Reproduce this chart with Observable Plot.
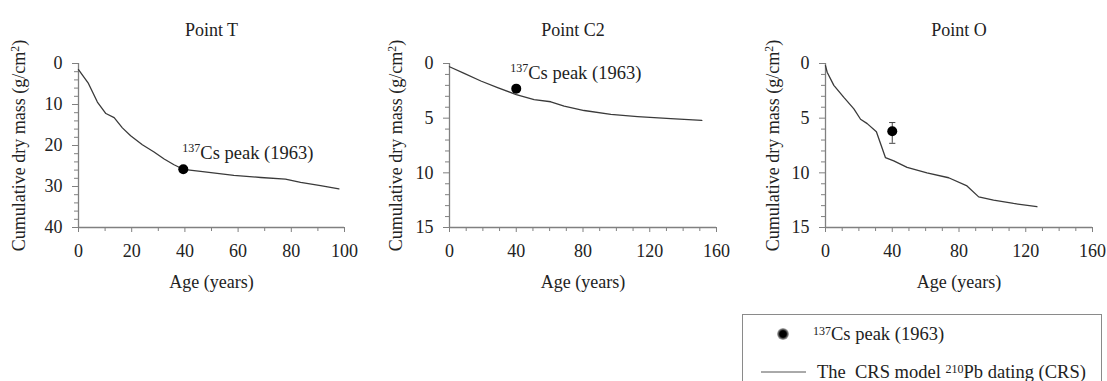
<!DOCTYPE html>
<html>
<head>
<meta charset="utf-8">
<script src="https://cdn.jsdelivr.net/npm/d3@7"></script>
<script src="https://cdn.jsdelivr.net/npm/@observablehq/plot@0.6"></script>
<style>
  html, body { margin: 0; padding: 0; background: #fff; }
  #wrap { position: relative; width: 1107px; height: 381px; overflow: hidden; font-family: "Liberation Serif", "Times New Roman", serif; color: #222; }
  .panel { position: absolute; top: 0; }
  #legend { position: absolute; left: 742px; top: 314px; width: 360px; height: 80px; border: 1px solid #8a8a8a; box-sizing: border-box; background: #fff; }
  #legend .row { position: absolute; font-size: 18.5px; line-height: 20px; white-space: nowrap; }
  #legend sup { font-size: 65%; vertical-align: 0.45em; line-height: 0; }
</style>
</head>
<body>
<div id="wrap"></div>
<script>
// ---- data ----
const titles = ["Point T", "Point C2", "Point O"];
const peakLabel = "137Cs peak (1963)";
const yLabel = "Cumulative dry mass (g/cm2)";
const xLabel = "Age (years)";

// Point T
const tAge  = [0, 3.6, 7.1, 10.3, 13.4, 16.5, 19.6, 24, 28.4, 32.2, 35.9, 39.4, 45.9, 58.4, 68.5, 77.8, 83.5, 91, 97.9];
const tMass = [1.5, 4.7, 9.4, 12.2, 13.2, 15.7, 17.6, 19.8, 21.6, 23.3, 24.7, 25.8, 26.3, 27.3, 27.8, 28.2, 29.0, 29.8, 30.6];
const tPeak = [{age: 39.4, mass: 25.8}];

// Point C2
const c2Age  = [0, 8.8, 18.8, 28.8, 40, 50.7, 60.7, 68.7, 80.7, 96.7, 112.7, 132.6, 151.2];
const c2Mass = [0.3, 0.9, 1.6, 2.2, 2.85, 3.3, 3.5, 3.9, 4.3, 4.65, 4.85, 5.05, 5.2];
const c2Peak = [{age: 40, mass: 2.3}];

// Point O
const oAge  = [0, 1, 5, 11, 17, 21, 25, 30.5, 35.9, 40.9, 48.9, 60.8, 73.8, 84.8, 91.8, 100.7, 112.7, 126.7];
const oMass = [0.2, 0.8, 2.0, 3.1, 4.15, 5.1, 5.5, 6.25, 8.6, 8.9, 9.5, 10.0, 10.45, 11.2, 12.2, 12.5, 12.8, 13.1];
const oPeak = [{age: 40, mass: 6.2, lo: 5.4, hi: 7.3}];

// ticks
const tXMajor = [0, 20, 40, 60, 80, 100];
const tXMinor = [10, 30, 50, 70, 90];
const tYMajor = [0, 10, 20, 30, 40];
const tYMinor = [2, 4, 6, 8, 12, 14, 16, 18, 22, 24, 26, 28, 32, 34, 36, 38];
const wXMajor = [0, 40, 80, 120, 160];
const wXMinor = [10, 20, 30, 50, 60, 70, 90, 100, 110, 130, 140, 150];
const wYMajor = [0, 5, 10, 15];
const wYMinor = [1, 2, 3, 4, 6, 7, 8, 9, 11, 12, 13, 14];

// ---- drawing ----
const axisGray = "#808080";
const lineCol = "#3a3a3a";
const font = "Liberation Serif";

const capSymbol = {
  draw(ctx, size) {
    const w = Math.sqrt(size) / 2;
    ctx.moveTo(-w, 0);
    ctx.lineTo(w, 0);
  }
};

function supify(svg) {
  d3.select(svg).selectAll("text").each(function() {
    const t = this.textContent;
    if (t === peakLabel) {
      this.textContent = "";
      d3.select(this).append("tspan").attr("baseline-shift", "super").attr("font-size", "65%").text("137");
      d3.select(this).append("tspan").text("Cs peak (1963)");
    } else if (t === yLabel) {
      this.textContent = "";
      d3.select(this).append("tspan").text("Cumulative dry mass (g/cm");
      d3.select(this).append("tspan").attr("baseline-shift", "super").attr("font-size", "65%").text("2");
      d3.select(this).append("tspan").text(")");
    }
  });
}

function panel(cfg) {
  const rows = cfg.age.map((a, i) => ({age: a, mass: cfg.mass[i]}));
  const yMax = cfg.yDomain[1];
  const marks = [
    Plot.axisX(cfg.xMajor, {tickSize: 5, tickPadding: 12, stroke: axisGray, fill: "#222", label: xLabel, labelAnchor: "center", labelOffset: 60, labelArrow: "none"}),
    Plot.axisX(cfg.xMinor, {tickSize: 4, stroke: axisGray, tickFormat: () => "", label: null}),
    Plot.axisY(cfg.yMajor, {tickSize: 6, tickPadding: 10, stroke: axisGray, fill: "#222", label: yLabel, labelAnchor: "center", labelOffset: cfg.labelOffset, labelArrow: "none"}),
    Plot.axisY(cfg.yMinor, {tickSize: 4, stroke: axisGray, tickFormat: () => "", label: null}),
    Plot.ruleX([cfg.xDomain[0]], {stroke: axisGray, strokeWidth: 1.3}),
    Plot.ruleY([yMax], {stroke: axisGray, strokeWidth: 1.3}),
    Plot.line(rows, {x: "age", y: "mass", stroke: lineCol, strokeWidth: 1.3}),
  ];
  if (cfg.err) {
    marks.push(Plot.ruleX(cfg.peak, {x: "age", y1: "lo", y2: "hi", stroke: "#444", strokeWidth: 1}));
    marks.push(Plot.dot(cfg.peak, {x: "age", y: "lo", symbol: capSymbol, r: 3.5, stroke: "#444", strokeWidth: 1}));
    marks.push(Plot.dot(cfg.peak, {x: "age", y: "hi", symbol: capSymbol, r: 3.5, stroke: "#444", strokeWidth: 1}));
  }
  marks.push(Plot.dot(cfg.peak, {x: "age", y: "mass", r: 5, fill: "#000", stroke: "none"}));
  if (cfg.annot) {
    marks.push(Plot.text(cfg.peak, {x: "age", y: "mass", text: () => peakLabel, textAnchor: "start", dx: cfg.annot[0], dy: cfg.annot[1], fill: "#222", fontSize: 18.5}));
  }
  marks.push(Plot.text([cfg.title], {frameAnchor: "top", dy: -40, dx: cfg.titleDx, text: d => d, fill: "#222", fontSize: 18}));

  const svg = Plot.plot({
    width: cfg.width,
    height: 300,
    marginLeft: cfg.ml,
    marginRight: cfg.mr,
    marginTop: 63,
    marginBottom: 73,
    style: {fontFamily: font, fontSize: "18px", color: "#222", background: "transparent", overflow: "visible"},
    x: {domain: cfg.xDomain},
    y: {domain: cfg.yDomain, reverse: true},
    marks
  });
  supify(svg);
  const holder = document.createElement("div");
  holder.className = "panel";
  holder.style.left = cfg.left + "px";
  holder.appendChild(svg);
  document.getElementById("wrap").appendChild(holder);
}

panel({title: titles[0], titleDx: 0, left: 0, width: 369, ml: 78, mr: 25, labelOffset: 66,
  xDomain: [0, 100], yDomain: [0, 40], xMajor: tXMajor, xMinor: tXMinor, yMajor: tYMajor, yMinor: tYMinor,
  age: tAge, mass: tMass, peak: tPeak, annot: [-1, -16]});
panel({title: titles[1], titleDx: -10, left: 370, width: 369, ml: 79, mr: 23, labelOffset: 60,
  xDomain: [0, 160], yDomain: [0, 15], xMajor: wXMajor, xMinor: wXMinor, yMajor: wYMajor, yMinor: wYMinor,
  age: c2Age, mass: c2Mass, peak: c2Peak, annot: [-6, -16]});
panel({title: titles[2], titleDx: 0, left: 740, width: 367, ml: 85, mr: 15, labelOffset: 59,
  xDomain: [0, 160], yDomain: [0, 15], xMajor: wXMajor, xMinor: wXMinor, yMajor: wYMajor, yMinor: wYMinor,
  age: oAge, mass: oMass, peak: oPeak, err: true});

// legend
const legend = document.createElement("div");
legend.id = "legend";
legend.innerHTML = `
  <svg width="360" height="80" style="position:absolute;left:0;top:0">
    <defs><radialGradient id="blur"><stop offset="0.55" stop-color="#000"/><stop offset="1" stop-color="#000" stop-opacity="0.25"/></radialGradient></defs>
    <circle cx="40" cy="19" r="6" fill="url(#blur)"/>
    <line x1="18" x2="63" y1="57" y2="57" stroke="#555" stroke-width="1"/>
  </svg>
  <div class="row" style="left:70px;top:9px"><sup>137</sup>Cs peak (1963)</div>
  <div class="row" style="left:74px;top:47px">The&nbsp; CRS model <sup>210</sup>Pb dating (CRS)</div>`;
document.getElementById("wrap").appendChild(legend);
</script>
</body>
</html>
